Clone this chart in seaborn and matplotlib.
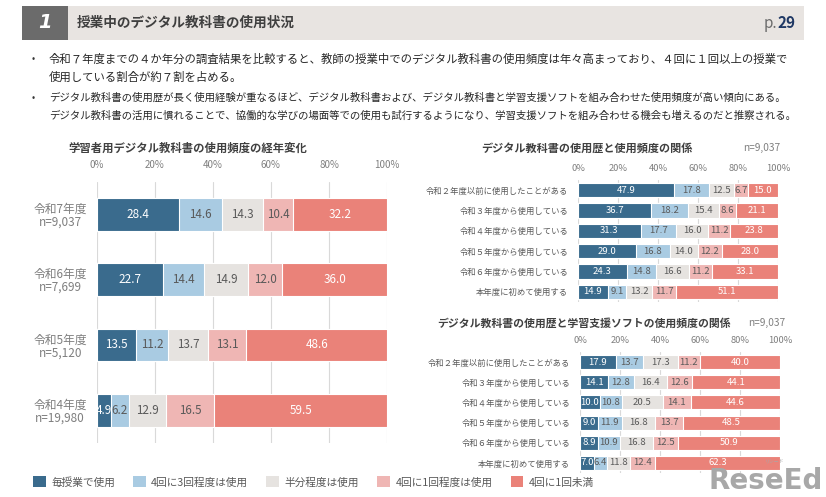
import numpy as np
import pandas as pd
import matplotlib.pyplot as plt
import seaborn as sns
from matplotlib.patches import Patch, Rectangle

# --- data ---
legend_names = ['毎授業で使用', '4回に3回程度は使用', '半分程度は使用', '4回に1回程度は使用', '4回に1回未満']
colors = ['#3a6b8d', '#a9cbe2', '#e6e3e0', '#efb6b4', '#ea8279']
text_colors = ['white', '#595959', '#595959', '#595959', 'white']

year_labels = ['令和7年度\nn=9,037', '令和6年度\nn=7,699', '令和5年度\nn=5,120', '令和4年度\nn=19,980']
year_every = [28.4, 22.7, 13.5, 4.9]
year_three = [14.6, 14.4, 11.2, 6.2]
year_half = [14.3, 14.9, 13.7, 12.9]
year_once = [10.4, 12.0, 13.1, 16.5]
year_less = [32.2, 36.0, 48.6, 59.5]

hist_labels = ['令和２年度以前に使用したことがある', '令和３年度から使用している', '令和４年度から使用している',
               '令和５年度から使用している', '令和６年度から使用している', '本年度に初めて使用する']
book_every = [47.9, 36.7, 31.3, 29.0, 24.3, 14.9]
book_three = [17.8, 18.2, 17.7, 16.8, 14.8, 9.1]
book_half = [12.5, 15.4, 16.0, 14.0, 16.6, 13.2]
book_once = [6.7, 8.6, 11.2, 12.2, 11.2, 11.7]
book_less = [15.0, 21.1, 23.8, 28.0, 33.1, 51.1]

soft_every = [17.9, 14.1, 10.0, 9.0, 8.9, 7.0]
soft_three = [13.7, 12.8, 10.8, 11.9, 10.9, 6.4]
soft_half = [17.3, 16.4, 20.5, 16.8, 16.8, 11.8]
soft_once = [11.2, 12.6, 14.1, 13.7, 12.5, 12.4]
soft_less = [40.0, 44.1, 44.6, 48.5, 50.9, 62.3]

ticks = [0, 20, 40, 60, 80, 100]

sns.set_style('white')
plt.rcParams['font.family'] = ['Noto Sans CJK JP', 'DejaVu Sans']

W, H = 826, 497
fig = plt.figure(figsize=(W / 100, H / 100), dpi=100)


def draw_stack(ax, cats, series, bar_w, val_fs, tick_fs, cat_fs, cat_pad, tick_pad):
    vals = np.array(series)
    cum = np.cumsum(vals, axis=0)
    # draw totals first, then overplot the shorter cumulative bars
    for k in reversed(range(len(series))):
        df = pd.DataFrame({'cat': cats, 'val': cum[k]})
        sns.barplot(data=df, x='val', y='cat', orient='h', color=colors[k], width=bar_w,
                    saturation=1, errorbar=None, edgecolor='white', linewidth=0.8, ax=ax)
    for i in range(len(cats)):
        for k in range(len(series)):
            v = vals[k][i]
            ax.text(cum[k][i] - v / 2, i, f'{v:.1f}', ha='center', va='center',
                    fontsize=val_fs, color=text_colors[k])
    ax.set_xlim(0, 100)
    ax.set_ylim(len(cats) - 0.5, -0.5)
    ax.set_xlabel('')
    ax.set_ylabel('')
    ax.xaxis.tick_top()
    ax.set_xticks(ticks)
    ax.set_xticklabels([f'{t}%' for t in ticks])
    ax.tick_params(axis='x', length=0, pad=tick_pad, labelsize=tick_fs, labelcolor='#7f7f7f')
    ax.tick_params(axis='y', length=0, pad=cat_pad, labelsize=cat_fs, labelcolor='#595959')
    ax.grid(axis='x', color='#d9d9d9', linewidth=0.8)
    ax.grid(axis='y', visible=False)
    ax.set_axisbelow(True)
    for s in ax.spines.values():
        s.set_visible(False)


# left chart
ax_l = fig.add_axes([96.7 / W, 1 - 443 / H, 290.3 / W, 261.5 / H])
draw_stack(ax_l, year_labels, [year_every, year_three, year_half, year_once, year_less],
           0.5, 8.4, 7, 8.5, 7, 8)
for lab in ax_l.get_yticklabels():
    lab.set_multialignment('center')
    lab.set_linespacing(1.0)
    lab.set_color('#7f7f7f')
fig.text(188 / W, 1 - 148 / H, '学習者用デジタル教科書の使用頻度の経年変化', ha='center', va='center',
         fontsize=8.2, fontweight='bold', color='#404040')

# right top chart
ax_t = fig.add_axes([578 / W, 1 - 302 / H, 200 / W, 122 / H])
draw_stack(ax_t, hist_labels, [book_every, book_three, book_half, book_once, book_less],
           0.7, 6.9, 6.7, 6, 7, 5)
fig.text(587 / W, 1 - 148 / H, 'デジタル教科書の使用歴と使用頻度の関係', ha='center', va='center',
         fontsize=8, fontweight='bold', color='#404040')
fig.text(743 / W, 1 - 148 / H, 'n=9,037', ha='left', va='center', fontsize=7.3, color='#7f7f7f')

# right bottom chart
ax_b = fig.add_axes([580 / W, 1 - 473 / H, 200 / W, 121 / H])
draw_stack(ax_b, hist_labels, [soft_every, soft_three, soft_half, soft_once, soft_less],
           0.7, 6.9, 6.7, 6, 7, 5)
fig.text(584 / W, 1 - 323 / H, 'デジタル教科書の使用歴と学習支援ソフトの使用頻度の関係', ha='center', va='center',
         fontsize=7.8, fontweight='bold', color='#404040')
fig.text(748 / W, 1 - 323 / H, 'n=9,037', ha='left', va='center', fontsize=7.3, color='#7f7f7f')

# legend
handles = [Patch(facecolor=c, edgecolor='none') for c in colors]
fig.legend(handles, legend_names, loc='center left', bbox_to_anchor=(33 / W, 1 - 482 / H), ncol=5,
           frameon=False, fontsize=7.7, handlelength=1.2, handleheight=1.2, handletextpad=0.5,
           columnspacing=1.7, labelcolor='#595959', borderaxespad=0, borderpad=0)

# header band
fig.patches.append(Rectangle((22 / W, 1 - 40 / H), 782 / W, 34 / H, transform=fig.transFigure,
                             facecolor='#e8e4e1', edgecolor='none', zorder=0))
fig.patches.append(Rectangle((22 / W, 1 - 40 / H), 46 / W, 34 / H, transform=fig.transFigure,
                             facecolor='#6b6b6b', edgecolor='none', zorder=1))
fig.text(45 / W, 1 - 23 / H, '1', ha='center', va='center', fontsize=14, fontweight='bold',
         style='italic', color='white', family='DejaVu Sans')
fig.text(77 / W, 1 - 23 / H, '授業中のデジタル教科書の使用状況', ha='left', va='center',
         fontsize=9.8, fontweight='bold', color='#3f3f3f')
t29 = fig.text(795 / W, 1 - 23 / H, '29', ha='right', va='center', fontsize=11, fontweight='bold',
               color='#1f3864')
fig.canvas.draw()
x29 = t29.get_window_extent().x0
fig.text(x29 / W, 1 - 23 / H, 'p.', ha='right', va='center', fontsize=11, color='#6b6b6b')

# bullets
bullets = [
    (59, '令和７年度までの４か年分の調査結果を比較すると、教師の授業中でのデジタル教科書の使用頻度は年々高まっており、４回に１回以上の授業で', 8.2, True),
    (77, '使用している割合が約７割を占める。', 8.2, False),
    (98, 'デジタル教科書の使用歴が長く使用経験が重なるほど、デジタル教科書および、デジタル教科書と学習支援ソフトを組み合わせた使用頻度が高い傾向にある。', 7.5, True),
    (116, 'デジタル教科書の活用に慣れることで、協働的な学びの場面等での使用も試行するようになり、学習支援ソフトを組み合わせる機会も増えるのだと推察される。', 7.5, False),
]
for y, txt, fs, dot in bullets:
    if dot:
        fig.text(33 / W, 1 - y / H, '•', ha='center', va='center', fontsize=7, color='#333333')
    fig.text(49 / W, 1 - y / H, txt, ha='left', va='center', fontsize=fs, color='#262626')

# watermark
fig.text(823 / W, 1 - 495 / H, 'ReseEd', ha='right', va='bottom', fontsize=20, fontweight='bold',
         color='#a8a8a8', family='DejaVu Sans')
fig.text(775 / W, 1 - 462 / H, 'リシード', ha='center', va='center', fontsize=3.5, color='#a8a8a8')

fig.savefig('out.png', dpi=100)
